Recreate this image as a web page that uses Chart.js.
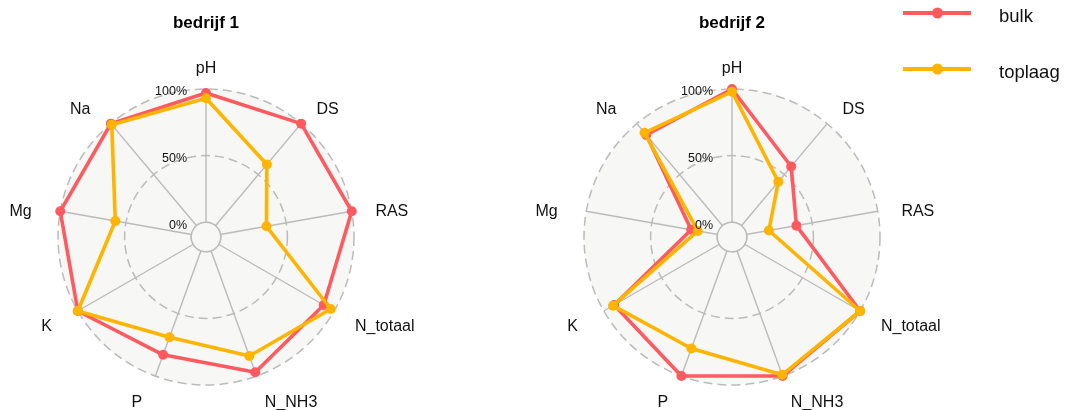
<!DOCTYPE html>
<html>
<head>
<meta charset="utf-8">
<script src="https://cdn.jsdelivr.net/npm/chart.js@4.4.1/dist/chart.umd.min.js"></script>
<style>
  html, body { margin: 0; padding: 0; background: #fff; }
  #wrap { position: relative; width: 1066px; height: 410px; }
  canvas { position: absolute; top: 0; }
</style>
</head>
<body>
<div id="wrap">
  <canvas id="grafico1" width="533" height="410" style="left:0"></canvas>
  <canvas id="grafico2" width="533" height="410" style="left:533px"></canvas>
</div>
<script>
var axes = ['pH', 'DS', 'RAS', 'N_totaal', 'N_NH3', 'P', 'K', 'Mg', 'Na']

var bulk1 = [0.97, 1.0, 1.0, 0.91, 0.97, 0.83, 1.0, 1.0, 1.0]
var toplaag1 = [0.93, 0.60, 0.35, 0.97, 0.84, 0.69, 1.0, 0.58, 0.99]

var bulk2 = [1.0, 0.58, 0.38, 1.0, 1.0, 1.0, 0.91, 0.20, 0.89]
var toplaag2 = [0.98, 0.43, 0.17, 1.0, 0.99, 0.78, 0.92, 0.15, 0.91]

var tickValues = [0, 0.5, 1]
var tickLabels = ['0%', '50%', '100%']

var groups = ['bulk', 'toplaag']
var titles = ['bedrijf 1', 'bedrijf 2']

var kleuren = ['#FF5A5F', '#FFB400']
var fundo = '#f7f7f6'
var cinza = '#bbbbbb'
var fonte = '"Liberation Sans", Arial, Helvetica, sans-serif'

// desenha o centro, as labels dos eixos e os % da escala
var radarExtras = {
  id: 'radarExtras',
  beforeDatasetsDraw(chart) {
    var s = chart.scales.r
    var ctx = chart.ctx
    var r0 = s.getDistanceFromCenterForValue(0)
    ctx.save()
    ctx.beginPath()
    ctx.arc(s.xCenter, s.yCenter, r0, 0, Math.PI * 2)
    ctx.fillStyle = fundo
    ctx.fill()
    ctx.strokeStyle = cinza
    ctx.lineWidth = 1.5
    ctx.stroke()

    ctx.font = '16px ' + fonte
    ctx.fillStyle = '#111'
    ctx.textBaseline = 'middle'
    chart.data.labels.forEach((lab, i) => {
      var p = s.getPointPosition(i, s.drawingArea + 24)
      var dx = p.x - s.xCenter
      var x = p.x
      if (Math.abs(dx) < 1) {
        ctx.textAlign = 'center'
      } else if (dx > 0) {
        ctx.textAlign = 'left'
      } else {
        ctx.textAlign = 'right'
        x -= 5
      }
      ctx.fillText(lab, x, p.y + 4)
    })
    ctx.restore()
  },
  afterDatasetsDraw(chart) {
    var s = chart.scales.r
    var ctx = chart.ctx
    ctx.save()
    ctx.font = '12.5px ' + fonte
    ctx.fillStyle = '#111'
    ctx.textAlign = 'right'
    ctx.textBaseline = 'middle'
    tickValues.forEach((v, i) => {
      ctx.fillText(tickLabels[i], s.xCenter - 19, s.yCenter - s.getDistanceFromCenterForValue(v) + 3)
    })
    ctx.restore()
  }
}

// legenda à direita do segundo grafico
var legenda = {
  id: 'legenda',
  afterDraw(chart) {
    var ctx = chart.ctx
    var x0 = chart.width - 163
    ctx.save()
    groups.forEach((g, i) => {
      var y = 13 + i * 56
      ctx.strokeStyle = kleuren[i]
      ctx.lineWidth = 4
      ctx.beginPath()
      ctx.moveTo(x0, y)
      ctx.lineTo(x0 + 68, y)
      ctx.stroke()
      ctx.fillStyle = kleuren[i]
      ctx.beginPath()
      ctx.arc(x0 + 34.5, y, 5.5, 0, Math.PI * 2)
      ctx.fill()
      ctx.fillStyle = '#111'
      ctx.font = '18.5px ' + fonte
      ctx.textAlign = 'left'
      ctx.textBaseline = 'middle'
      ctx.fillText(g, x0 + 96, y + 3.5)
    })
    ctx.restore()
  }
}

function createGrafico(ctx, titulo, dados, padding, plugins) {
  return new Chart(ctx, {
    type: 'radar',
    data: {
      labels: axes,
      datasets: dados.map((d, i) => ({
        label: groups[i],
        data: d,
        order: dados.length - i,
        borderColor: kleuren[i],
        backgroundColor: kleuren[i],
        pointBackgroundColor: kleuren[i],
        pointBorderWidth: 0,
        pointRadius: 5,
        borderWidth: 3.6,
        borderJoinStyle: 'round',
        fill: false,
        tension: 0
      }))
    },
    options: {
      responsive: false,
      animation: false,
      layout: { padding: padding },
      plugins: {
        legend: { display: false },
        tooltip: { enabled: false },
        title: {
          display: true,
          text: titulo,
          color: '#000',
          font: { family: fonte, size: 17, weight: 'bold', lineHeight: 1 },
          padding: { top: 14.5, bottom: 57.5 }
        }
      },
      scales: {
        r: {
          min: -1 / 9,
          max: 1,
          backgroundColor: fundo,
          afterBuildTicks: s => { s.ticks = tickValues.map(v => ({ value: v })) },
          ticks: { display: false },
          pointLabels: { display: false },
          grid: { circular: true, color: cinza, lineWidth: 1.5 },
          border: { dash: [9, 5] },
          angleLines: { color: cinza, lineWidth: 1.4 }
        }
      }
    },
    plugins: plugins
  })
}

var chart1 = createGrafico(document.getElementById('grafico1'), titles[0], [bulk1, toplaag1],
  { left: 58, right: 179, top: 0, bottom: 25 }, [radarExtras])
var chart2 = createGrafico(document.getElementById('grafico2'), titles[1], [bulk2, toplaag2],
  { left: 51, right: 186, top: 0, bottom: 25 }, [radarExtras, legenda])
</script>
</body>
</html>
